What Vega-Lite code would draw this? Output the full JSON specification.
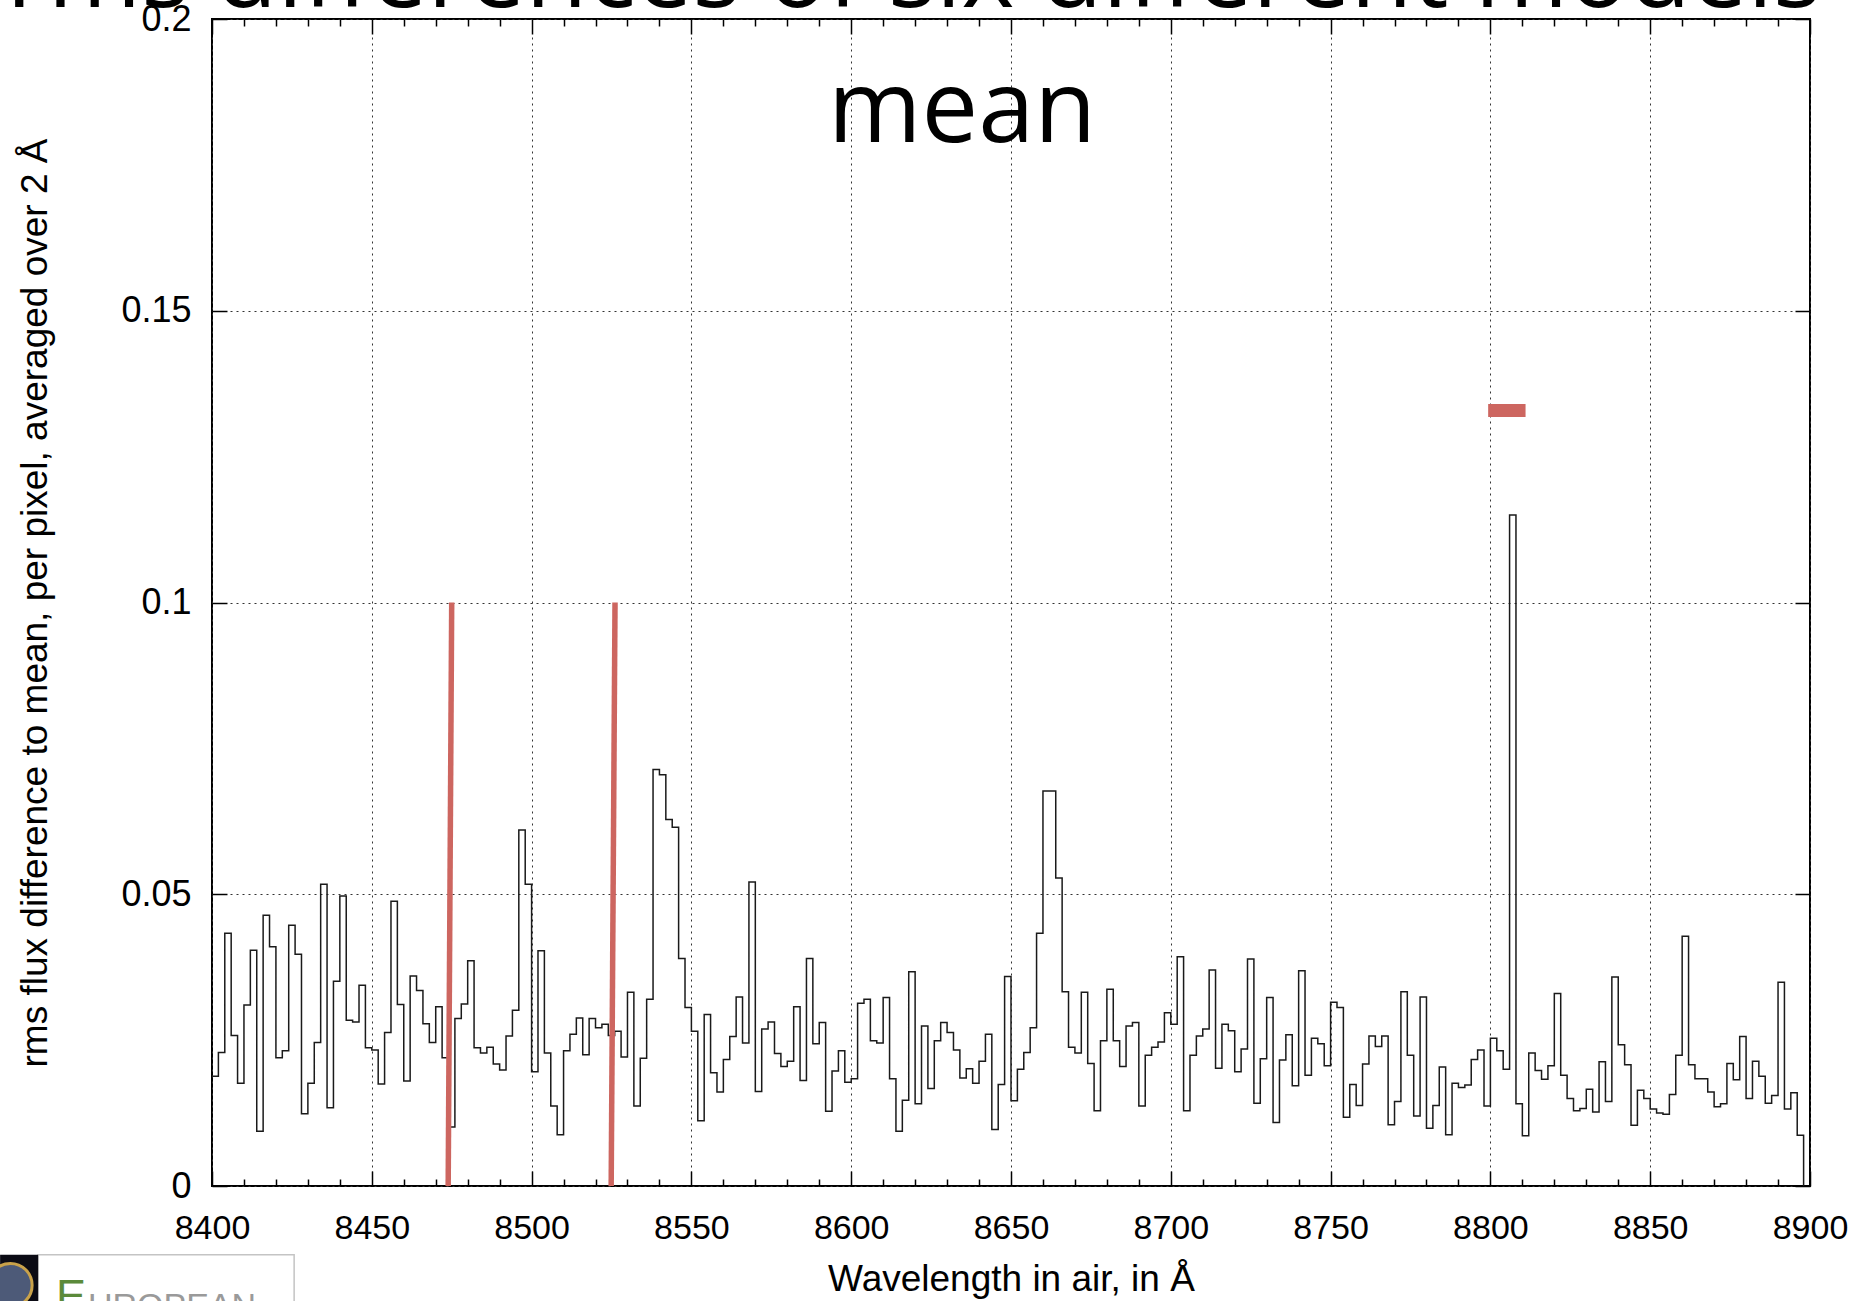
{
  "$schema": "https://vega.github.io/schema/vega-lite/v6.json",
  "width": 1598,
  "height": 1167,
  "autosize": {"type": "none"},
  "padding": {"left": 212, "top": 19, "right": 59, "bottom": 115},
  "background": "white",
  "config": {
    "view": {"stroke": "black", "strokeWidth": 2},
    "font": "Liberation Sans"
  },
  "datasets": {
    "rms": [
      {"wl": 8400, "rms": 0.0188}, {"wl": 8402, "rms": 0.0229}, {"wl": 8404, "rms": 0.0433}, {"wl": 8406, "rms": 0.0258},
      {"wl": 8408, "rms": 0.0176}, {"wl": 8410, "rms": 0.0310}, {"wl": 8412, "rms": 0.0404}, {"wl": 8414, "rms": 0.0094},
      {"wl": 8416, "rms": 0.0464}, {"wl": 8418, "rms": 0.0410}, {"wl": 8420, "rms": 0.0220}, {"wl": 8422, "rms": 0.0232},
      {"wl": 8424, "rms": 0.0447}, {"wl": 8426, "rms": 0.0397}, {"wl": 8428, "rms": 0.0124}, {"wl": 8430, "rms": 0.0176},
      {"wl": 8432, "rms": 0.0246}, {"wl": 8434, "rms": 0.0517}, {"wl": 8436, "rms": 0.0134}, {"wl": 8438, "rms": 0.0351},
      {"wl": 8440, "rms": 0.0497}, {"wl": 8442, "rms": 0.0284}, {"wl": 8444, "rms": 0.0281}, {"wl": 8446, "rms": 0.0344},
      {"wl": 8448, "rms": 0.0237}, {"wl": 8450, "rms": 0.0233}, {"wl": 8452, "rms": 0.0175}, {"wl": 8454, "rms": 0.0263},
      {"wl": 8456, "rms": 0.0488}, {"wl": 8458, "rms": 0.0311}, {"wl": 8460, "rms": 0.0180}, {"wl": 8462, "rms": 0.0360},
      {"wl": 8464, "rms": 0.0335}, {"wl": 8466, "rms": 0.0278}, {"wl": 8468, "rms": 0.0246}, {"wl": 8470, "rms": 0.0307},
      {"wl": 8472, "rms": 0.0220}, {"wl": 8474, "rms": 0.0101}, {"wl": 8476, "rms": 0.0287}, {"wl": 8478, "rms": 0.0312},
      {"wl": 8480, "rms": 0.0386}, {"wl": 8482, "rms": 0.0237}, {"wl": 8484, "rms": 0.0228}, {"wl": 8486, "rms": 0.0238},
      {"wl": 8488, "rms": 0.0209}, {"wl": 8490, "rms": 0.0199}, {"wl": 8492, "rms": 0.0257}, {"wl": 8494, "rms": 0.0301},
      {"wl": 8496, "rms": 0.0610}, {"wl": 8498, "rms": 0.0517}, {"wl": 8500, "rms": 0.0196}, {"wl": 8502, "rms": 0.0403},
      {"wl": 8504, "rms": 0.0228}, {"wl": 8506, "rms": 0.0137}, {"wl": 8508, "rms": 0.0088}, {"wl": 8510, "rms": 0.0232},
      {"wl": 8512, "rms": 0.0260}, {"wl": 8514, "rms": 0.0288}, {"wl": 8516, "rms": 0.0225}, {"wl": 8518, "rms": 0.0287},
      {"wl": 8520, "rms": 0.0271}, {"wl": 8522, "rms": 0.0277}, {"wl": 8524, "rms": 0.0258}, {"wl": 8526, "rms": 0.0265},
      {"wl": 8528, "rms": 0.0221}, {"wl": 8530, "rms": 0.0332}, {"wl": 8532, "rms": 0.0137}, {"wl": 8534, "rms": 0.0219},
      {"wl": 8536, "rms": 0.0320}, {"wl": 8538, "rms": 0.0714}, {"wl": 8540, "rms": 0.0705}, {"wl": 8542, "rms": 0.0628},
      {"wl": 8544, "rms": 0.0615}, {"wl": 8546, "rms": 0.0390}, {"wl": 8548, "rms": 0.0306}, {"wl": 8550, "rms": 0.0265},
      {"wl": 8552, "rms": 0.0112}, {"wl": 8554, "rms": 0.0294}, {"wl": 8556, "rms": 0.0194}, {"wl": 8558, "rms": 0.0161},
      {"wl": 8560, "rms": 0.0217}, {"wl": 8562, "rms": 0.0256}, {"wl": 8564, "rms": 0.0324}, {"wl": 8566, "rms": 0.0245},
      {"wl": 8568, "rms": 0.0521}, {"wl": 8570, "rms": 0.0162}, {"wl": 8572, "rms": 0.0269}, {"wl": 8574, "rms": 0.0281},
      {"wl": 8576, "rms": 0.0227}, {"wl": 8578, "rms": 0.0205}, {"wl": 8580, "rms": 0.0214}, {"wl": 8582, "rms": 0.0307},
      {"wl": 8584, "rms": 0.0181}, {"wl": 8586, "rms": 0.0390}, {"wl": 8588, "rms": 0.0244}, {"wl": 8590, "rms": 0.0280},
      {"wl": 8592, "rms": 0.0128}, {"wl": 8594, "rms": 0.0197}, {"wl": 8596, "rms": 0.0232}, {"wl": 8598, "rms": 0.0178},
      {"wl": 8600, "rms": 0.0184}, {"wl": 8602, "rms": 0.0313}, {"wl": 8604, "rms": 0.0320}, {"wl": 8606, "rms": 0.0249},
      {"wl": 8608, "rms": 0.0245}, {"wl": 8610, "rms": 0.0323}, {"wl": 8612, "rms": 0.0184}, {"wl": 8614, "rms": 0.0094},
      {"wl": 8616, "rms": 0.0147}, {"wl": 8618, "rms": 0.0367}, {"wl": 8620, "rms": 0.0141}, {"wl": 8622, "rms": 0.0274},
      {"wl": 8624, "rms": 0.0167}, {"wl": 8626, "rms": 0.0249}, {"wl": 8628, "rms": 0.0280}, {"wl": 8630, "rms": 0.0263},
      {"wl": 8632, "rms": 0.0233}, {"wl": 8634, "rms": 0.0185}, {"wl": 8636, "rms": 0.0201}, {"wl": 8638, "rms": 0.0176},
      {"wl": 8640, "rms": 0.0214}, {"wl": 8642, "rms": 0.0260}, {"wl": 8644, "rms": 0.0097}, {"wl": 8646, "rms": 0.0174},
      {"wl": 8648, "rms": 0.0359}, {"wl": 8650, "rms": 0.0146}, {"wl": 8652, "rms": 0.0200}, {"wl": 8654, "rms": 0.0229},
      {"wl": 8656, "rms": 0.0271}, {"wl": 8658, "rms": 0.0433}, {"wl": 8660, "rms": 0.0677}, {"wl": 8662, "rms": 0.0677},
      {"wl": 8664, "rms": 0.0528}, {"wl": 8666, "rms": 0.0333}, {"wl": 8668, "rms": 0.0238}, {"wl": 8670, "rms": 0.0228},
      {"wl": 8672, "rms": 0.0332}, {"wl": 8674, "rms": 0.0210}, {"wl": 8676, "rms": 0.0129}, {"wl": 8678, "rms": 0.0249},
      {"wl": 8680, "rms": 0.0337}, {"wl": 8682, "rms": 0.0249}, {"wl": 8684, "rms": 0.0205}, {"wl": 8686, "rms": 0.0274},
      {"wl": 8688, "rms": 0.0280}, {"wl": 8690, "rms": 0.0137}, {"wl": 8692, "rms": 0.0224}, {"wl": 8694, "rms": 0.0238},
      {"wl": 8696, "rms": 0.0247}, {"wl": 8698, "rms": 0.0297}, {"wl": 8700, "rms": 0.0277}, {"wl": 8702, "rms": 0.0393},
      {"wl": 8704, "rms": 0.0129}, {"wl": 8706, "rms": 0.0224}, {"wl": 8708, "rms": 0.0257}, {"wl": 8710, "rms": 0.0269},
      {"wl": 8712, "rms": 0.0370}, {"wl": 8714, "rms": 0.0202}, {"wl": 8716, "rms": 0.0277}, {"wl": 8718, "rms": 0.0266},
      {"wl": 8720, "rms": 0.0196}, {"wl": 8722, "rms": 0.0235}, {"wl": 8724, "rms": 0.0389}, {"wl": 8726, "rms": 0.0142},
      {"wl": 8728, "rms": 0.0218}, {"wl": 8730, "rms": 0.0323}, {"wl": 8732, "rms": 0.0109}, {"wl": 8734, "rms": 0.0216},
      {"wl": 8736, "rms": 0.0259}, {"wl": 8738, "rms": 0.0172}, {"wl": 8740, "rms": 0.0369}, {"wl": 8742, "rms": 0.0190},
      {"wl": 8744, "rms": 0.0253}, {"wl": 8746, "rms": 0.0244}, {"wl": 8748, "rms": 0.0206}, {"wl": 8750, "rms": 0.0315},
      {"wl": 8752, "rms": 0.0306}, {"wl": 8754, "rms": 0.0118}, {"wl": 8756, "rms": 0.0174}, {"wl": 8758, "rms": 0.0138},
      {"wl": 8760, "rms": 0.0209}, {"wl": 8762, "rms": 0.0257}, {"wl": 8764, "rms": 0.0239}, {"wl": 8766, "rms": 0.0257},
      {"wl": 8768, "rms": 0.0105}, {"wl": 8770, "rms": 0.0145}, {"wl": 8772, "rms": 0.0333}, {"wl": 8774, "rms": 0.0224},
      {"wl": 8776, "rms": 0.0120}, {"wl": 8778, "rms": 0.0324}, {"wl": 8780, "rms": 0.0099}, {"wl": 8782, "rms": 0.0138},
      {"wl": 8784, "rms": 0.0204}, {"wl": 8786, "rms": 0.0088}, {"wl": 8788, "rms": 0.0176}, {"wl": 8790, "rms": 0.0169},
      {"wl": 8792, "rms": 0.0173}, {"wl": 8794, "rms": 0.0217}, {"wl": 8796, "rms": 0.0233}, {"wl": 8798, "rms": 0.0137},
      {"wl": 8800, "rms": 0.0253}, {"wl": 8802, "rms": 0.0232}, {"wl": 8804, "rms": 0.0200}, {"wl": 8806, "rms": 0.1150},
      {"wl": 8808, "rms": 0.0141}, {"wl": 8810, "rms": 0.0086}, {"wl": 8812, "rms": 0.0228}, {"wl": 8814, "rms": 0.0198},
      {"wl": 8816, "rms": 0.0183}, {"wl": 8818, "rms": 0.0206}, {"wl": 8820, "rms": 0.0330}, {"wl": 8822, "rms": 0.0190},
      {"wl": 8824, "rms": 0.0150}, {"wl": 8826, "rms": 0.0129}, {"wl": 8828, "rms": 0.0133}, {"wl": 8830, "rms": 0.0166},
      {"wl": 8832, "rms": 0.0127}, {"wl": 8834, "rms": 0.0213}, {"wl": 8836, "rms": 0.0145}, {"wl": 8838, "rms": 0.0358},
      {"wl": 8840, "rms": 0.0242}, {"wl": 8842, "rms": 0.0208}, {"wl": 8844, "rms": 0.0104}, {"wl": 8846, "rms": 0.0164},
      {"wl": 8848, "rms": 0.0150}, {"wl": 8850, "rms": 0.0132}, {"wl": 8852, "rms": 0.0125}, {"wl": 8854, "rms": 0.0123},
      {"wl": 8856, "rms": 0.0157}, {"wl": 8858, "rms": 0.0224}, {"wl": 8860, "rms": 0.0428}, {"wl": 8862, "rms": 0.0208},
      {"wl": 8864, "rms": 0.0184}, {"wl": 8866, "rms": 0.0184}, {"wl": 8868, "rms": 0.0161}, {"wl": 8870, "rms": 0.0136},
      {"wl": 8872, "rms": 0.0141}, {"wl": 8874, "rms": 0.0210}, {"wl": 8876, "rms": 0.0182}, {"wl": 8878, "rms": 0.0256},
      {"wl": 8880, "rms": 0.0150}, {"wl": 8882, "rms": 0.0214}, {"wl": 8884, "rms": 0.0188}, {"wl": 8886, "rms": 0.0142},
      {"wl": 8888, "rms": 0.0155}, {"wl": 8890, "rms": 0.0349}, {"wl": 8892, "rms": 0.0132}, {"wl": 8894, "rms": 0.0160},
      {"wl": 8896, "rms": 0.0087}, {"wl": 8898, "rms": 0}
    ],
    "redlines": [
      {"xa": 8473.9, "xb": 8475.0, "ya": 0, "yb": 0.1},
      {"xa": 8524.9, "xb": 8526.1, "ya": 0, "yb": 0.1}
    ],
    "redbar": [
      {"xa": 8799.3, "xb": 8811.0, "ya": 0.1318, "yb": 0.134}
    ],
    "heading": [
      {"line1": "The rms differences of six different models", "line2": "mean"}
    ],
    "logo": [
      {"initial": "E", "rest": "UROPEAN"}
    ]
  },
  "layer": [
    {
      "data": {"name": "rms"},
      "mark": {"type": "line", "interpolate": "step-after", "color": "#1a1a1a", "strokeWidth": 1.5},
      "encoding": {
        "x": {
          "field": "wl", "type": "quantitative",
          "scale": {"domain": [8400, 8900], "nice": false, "zero": false},
          "axis": {
            "orient": "bottom",
            "values": [8400, 8450, 8500, 8550, 8600, 8650, 8700, 8750, 8800, 8850, 8900],
            "format": "d",
            "domain": false,
            "ticks": true, "tickSize": -15, "tickWidth": 1.5, "tickColor": "black",
            "grid": true, "gridColor": "#333", "gridDash": [2, 4], "gridWidth": 1,
            "labelFont": "Liberation Sans", "labelFontSize": 34, "labelColor": "black",
            "labelPadding": 40, "labelFlush": false, "labelOverlap": false,
            "title": "Wavelength in air, in Å",
            "titleFont": "Liberation Sans", "titleFontSize": 37, "titleFontWeight": "normal",
            "titleColor": "black", "titlePadding": 16
          }
        },
        "y": {
          "field": "rms", "type": "quantitative",
          "scale": {"domain": [0, 0.2], "nice": false, "zero": false},
          "axis": {
            "orient": "left",
            "values": [0, 0.05, 0.1, 0.15, 0.2],
            "labelExpr": "'' + datum.value",
            "domain": false,
            "ticks": true, "tickSize": -15, "tickWidth": 1.5, "tickColor": "black",
            "grid": true, "gridColor": "#333", "gridDash": [2, 4], "gridWidth": 1,
            "labelFont": "Liberation Sans", "labelFontSize": 36, "labelColor": "black",
            "labelPadding": 36, "labelFlush": false, "labelOverlap": false,
            "title": "rms flux difference to mean, per pixel, averaged over 2 Å",
            "titleFont": "Liberation Sans", "titleFontSize": 37, "titleFontWeight": "normal",
            "titleColor": "black", "titlePadding": 66
          }
        }
      }
    },
    {
      "data": {"name": "rms"},
      "mark": {"type": "point", "opacity": 0},
      "encoding": {
        "x": {
          "field": "wl", "type": "quantitative",
          "scale": {"domain": [8400, 8900], "nice": false, "zero": false},
          "axis": {
            "orient": "top",
            "values": [8400, 8450, 8500, 8550, 8600, 8650, 8700, 8750, 8800, 8850, 8900],
            "domain": false, "labels": false, "grid": false, "title": null,
            "ticks": true, "tickSize": -15, "tickWidth": 1.5, "tickColor": "black"
          }
        },
        "y": {
          "field": "rms", "type": "quantitative",
          "scale": {"domain": [0, 0.2], "nice": false, "zero": false},
          "axis": {
            "orient": "right",
            "values": [0, 0.05, 0.1, 0.15, 0.2],
            "domain": false, "labels": false, "grid": false, "title": null,
            "ticks": true, "tickSize": -15, "tickWidth": 1.5, "tickColor": "black"
          }
        }
      }
    },
    {
      "data": {"name": "rms"},
      "mark": {"type": "point", "opacity": 0},
      "encoding": {
        "x": {
          "field": "wl", "type": "quantitative",
          "scale": {"domain": [8400, 8900], "nice": false, "zero": false},
          "axis": {
            "orient": "bottom",
            "values": [8410, 8420, 8430, 8440, 8460, 8470, 8480, 8490, 8510, 8520, 8530, 8540, 8560, 8570, 8580, 8590, 8610, 8620, 8630, 8640, 8660, 8670, 8680, 8690, 8710, 8720, 8730, 8740, 8760, 8770, 8780, 8790, 8810, 8820, 8830, 8840, 8860, 8870, 8880, 8890],
            "domain": false, "labels": false, "grid": false, "title": null,
            "ticks": true, "tickSize": -7, "tickWidth": 1.5, "tickColor": "black"
          }
        },
        "y": {
          "field": "rms", "type": "quantitative",
          "scale": {"domain": [0, 0.2], "nice": false, "zero": false},
          "axis": null
        }
      }
    },
    {
      "data": {"name": "rms"},
      "mark": {"type": "point", "opacity": 0},
      "encoding": {
        "x": {
          "field": "wl", "type": "quantitative",
          "scale": {"domain": [8400, 8900], "nice": false, "zero": false},
          "axis": {
            "orient": "top",
            "values": [8410, 8420, 8430, 8440, 8460, 8470, 8480, 8490, 8510, 8520, 8530, 8540, 8560, 8570, 8580, 8590, 8610, 8620, 8630, 8640, 8660, 8670, 8680, 8690, 8710, 8720, 8730, 8740, 8760, 8770, 8780, 8790, 8810, 8820, 8830, 8840, 8860, 8870, 8880, 8890],
            "domain": false, "labels": false, "grid": false, "title": null,
            "ticks": true, "tickSize": -7, "tickWidth": 1.5, "tickColor": "black"
          }
        },
        "y": {
          "field": "rms", "type": "quantitative",
          "scale": {"domain": [0, 0.2], "nice": false, "zero": false},
          "axis": null
        }
      }
    },
    {
      "data": {"name": "redlines"},
      "mark": {"type": "rule", "color": "#CD6660", "strokeWidth": 5.5},
      "encoding": {
        "x": {"field": "xa", "type": "quantitative", "scale": {"domain": [8400, 8900], "nice": false, "zero": false}, "axis": null},
        "x2": {"field": "xb"},
        "y": {"field": "ya", "type": "quantitative", "scale": {"domain": [0, 0.2], "nice": false, "zero": false}, "axis": null},
        "y2": {"field": "yb"}
      }
    },
    {
      "data": {"name": "redbar"},
      "mark": {"type": "rect", "color": "#CD6660"},
      "encoding": {
        "x": {"field": "xa", "type": "quantitative", "scale": {"domain": [8400, 8900], "nice": false, "zero": false}, "axis": null},
        "x2": {"field": "xb"},
        "y": {"field": "ya", "type": "quantitative", "scale": {"domain": [0, 0.2], "nice": false, "zero": false}, "axis": null},
        "y2": {"field": "yb"}
      }
    },
    {
      "data": {"name": "heading"},
      "mark": {"type": "text", "font": "Open Sans", "fontSize": 101, "color": "black", "align": "center", "baseline": "alphabetic"},
      "encoding": {
        "x": {"datum": 8634.7, "type": "quantitative", "scale": {"domain": [8400, 8900], "nice": false, "zero": false}, "axis": null},
        "y": {"datum": 0.1789, "type": "quantitative", "scale": {"domain": [0, 0.2], "nice": false, "zero": false}, "axis": null},
        "text": {"field": "line2"}
      }
    },
    {
      "data": {"name": "heading"},
      "mark": {"type": "text", "font": "Open Sans", "fontSize": 101, "color": "black", "align": "right", "baseline": "alphabetic"},
      "encoding": {
        "x": {"datum": 8903.5, "type": "quantitative", "scale": {"domain": [8400, 8900], "nice": false, "zero": false}, "axis": null},
        "y": {"datum": 0.2021, "type": "quantitative", "scale": {"domain": [0, 0.2], "nice": false, "zero": false}, "axis": null},
        "text": {"field": "line1"}
      }
    },
    {
      "data": {"name": "logo"},
      "mark": {"type": "rect", "fill": "white", "stroke": "#c4c4c4", "strokeWidth": 1.5},
      "encoding": {
        "x": {"datum": 8345.6, "type": "quantitative", "scale": {"domain": [8400, 8900], "nice": false, "zero": false}, "axis": null},
        "x2": {"datum": 8425.7},
        "y": {"datum": -0.0118, "type": "quantitative", "scale": {"domain": [0, 0.2], "nice": false, "zero": false}, "axis": null},
        "y2": {"datum": -0.03}
      }
    },
    {
      "data": {"name": "logo"},
      "mark": {"type": "rect", "fill": "#0b0b14"},
      "encoding": {
        "x": {"datum": 8333.7, "type": "quantitative", "scale": {"domain": [8400, 8900], "nice": false, "zero": false}, "axis": null},
        "x2": {"datum": 8345.6},
        "y": {"datum": -0.0118, "type": "quantitative", "scale": {"domain": [0, 0.2], "nice": false, "zero": false}, "axis": null},
        "y2": {"datum": -0.03}
      }
    },
    {
      "data": {"name": "logo"},
      "mark": {"type": "point", "filled": true, "shape": "circle", "size": 1900, "color": "#4d5a78", "stroke": "#c9a24a", "strokeWidth": 3, "opacity": 1},
      "encoding": {
        "x": {"datum": 8336.9, "type": "quantitative", "scale": {"domain": [8400, 8900], "nice": false, "zero": false}, "axis": null},
        "y": {"datum": -0.0170, "type": "quantitative", "scale": {"domain": [0, 0.2], "nice": false, "zero": false}, "axis": null}
      }
    },
    {
      "data": {"name": "logo"},
      "mark": {"type": "text", "font": "Liberation Sans", "fontSize": 45, "color": "#5b8a3a", "align": "left", "baseline": "alphabetic"},
      "encoding": {
        "x": {"datum": 8351.2, "type": "quantitative", "scale": {"domain": [8400, 8900], "nice": false, "zero": false}, "axis": null},
        "y": {"datum": -0.0214, "type": "quantitative", "scale": {"domain": [0, 0.2], "nice": false, "zero": false}, "axis": null},
        "text": {"field": "initial"}
      }
    },
    {
      "data": {"name": "logo"},
      "mark": {"type": "text", "font": "Liberation Sans", "fontSize": 34, "color": "#9a9a9a", "align": "left", "baseline": "alphabetic"},
      "encoding": {
        "x": {"datum": 8361.2, "type": "quantitative", "scale": {"domain": [8400, 8900], "nice": false, "zero": false}, "axis": null},
        "y": {"datum": -0.0225, "type": "quantitative", "scale": {"domain": [0, 0.2], "nice": false, "zero": false}, "axis": null},
        "text": {"field": "rest"}
      }
    }
  ],
  "resolve": {"axis": {"x": "independent", "y": "independent"}}
}
